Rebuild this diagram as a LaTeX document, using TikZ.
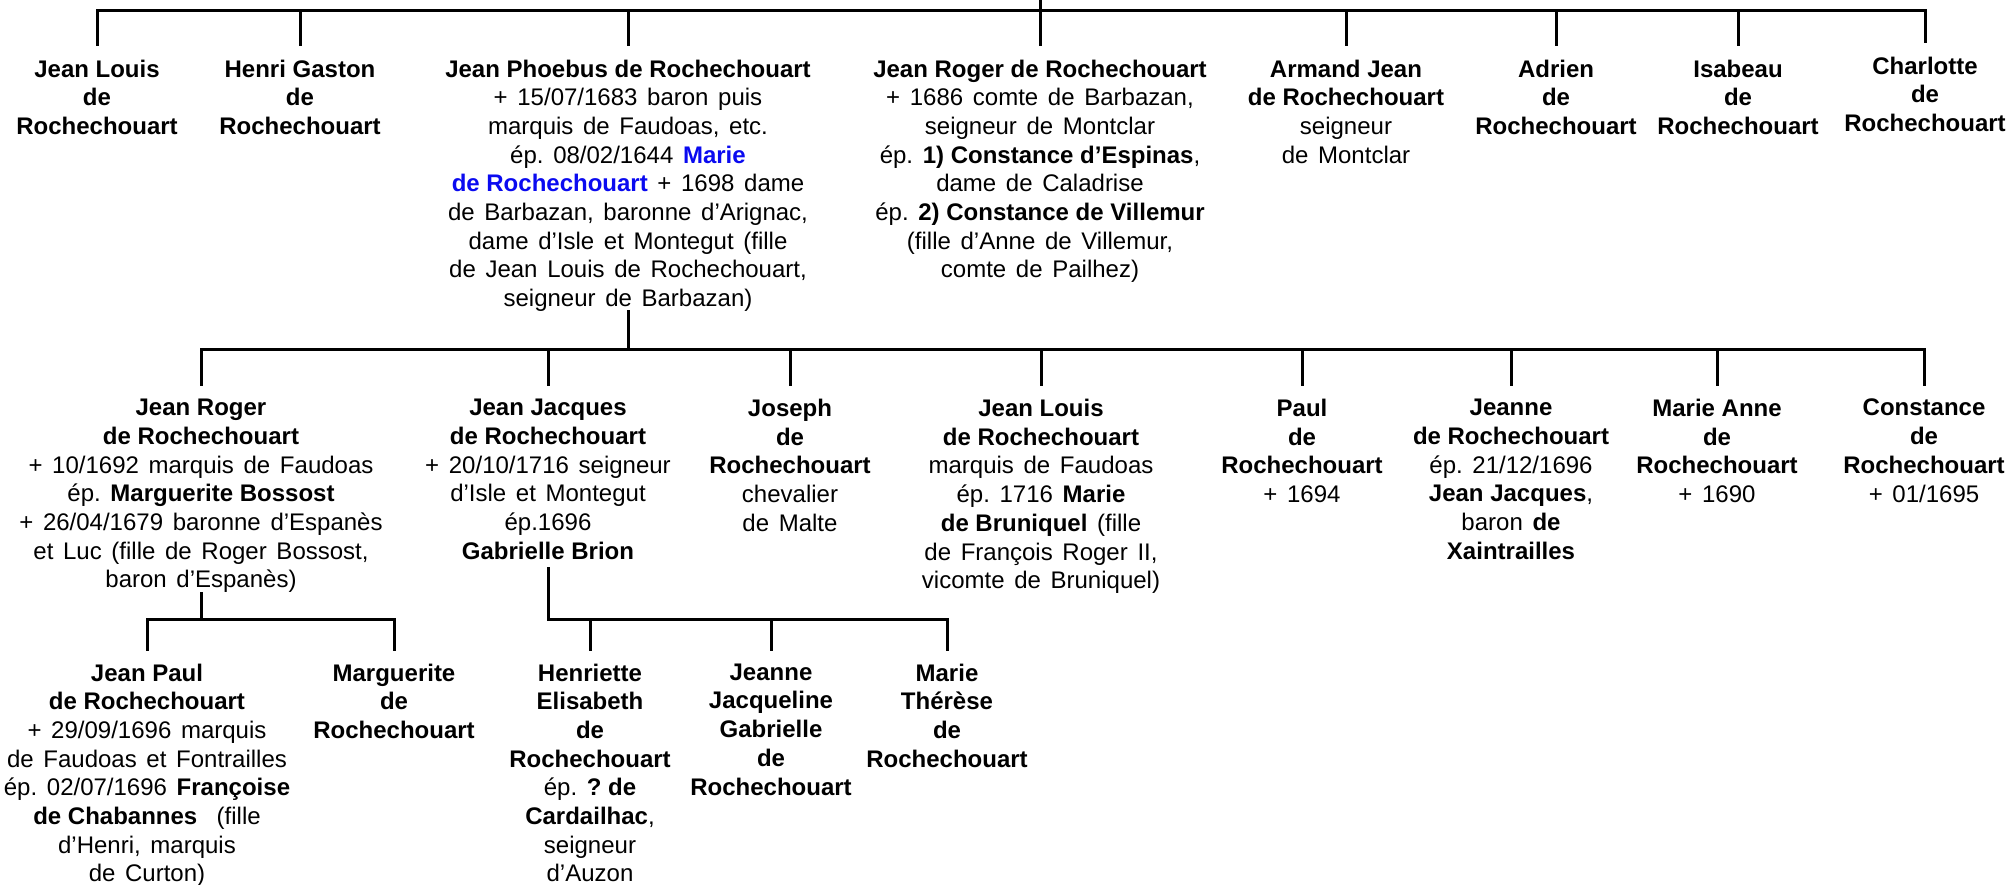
\documentclass[tikz,border=0pt]{standalone}
\usepackage{fontspec}
\setmainfont{Liberation Sans}[UprightFeatures={WordSpace=1.45}]
\frenchspacing
\definecolor{wifeblue}{RGB}{10,10,240}

\begin{document}
\begin{tikzpicture}[
    x=1pt, y=-1pt,
    font=\fontsize{24}{28.7}\selectfont,
    person/.style={align=center, anchor=north, inner sep=0pt},
    boldname/.style={font=\fontsize{24}{28.7}\selectfont\bfseries},
    tree/.style={line width=3pt, line cap=rect},
    drop/.style={line width=3pt, shorten >=13pt}
  ]
  \useasboundingbox (0,0) rectangle (2011,885);
  % first generation
  \node[person, boldname] (louisA) at (97,59.5) {Jean Louis\\de\\Rochechouart};
  \node[person, boldname] (henri) at (300,59.5) {Henri Gaston\\de\\Rochechouart};
  \node[person] (phoebus) at (628,59.5) {\textbf{Jean Phoebus de Rochechouart}\\+ 15/07/1683 baron puis\\marquis de Faudoas, etc.\\ép. 08/02/1644 \textbf{\color{wifeblue}Marie}\\\textbf{\color{wifeblue}de Rochechouart} + 1698 dame\\de Barbazan, baronne d’Arignac,\\dame d’Isle et Montegut (fille\\de Jean Louis de Rochechouart,\\seigneur de Barbazan)};
  \node[person] (rogerA) at (1040,59.5) {\textbf{Jean Roger de Rochechouart}\\+ 1686 comte de Barbazan,\\seigneur de Montclar\\ép. \textbf{1) Constance d’Espinas},\\dame de Caladrise\\ép. \textbf{2) Constance de Villemur}\\(fille d’Anne de Villemur,\\comte de Pailhez)};
  \node[person] (armand) at (1346,59.5) {\textbf{Armand Jean}\\\textbf{de Rochechouart}\\seigneur\\de Montclar};
  \node[person, boldname] (adrien) at (1556,59.5) {Adrien\\de\\Rochechouart};
  \node[person, boldname] (isabeau) at (1738,59.5) {Isabeau\\de\\Rochechouart};
  \node[person, boldname] (charlotte) at (1925,56.5) {Charlotte\\de\\Rochechouart};
  % second generation
  \node[person] (rogerB) at (201,399) {\textbf{Jean Roger}\\\textbf{de Rochechouart}\\+ 10/1692 marquis de Faudoas\\ép. \textbf{Marguerite Bossost}\\+ 26/04/1679 baronne d’Espanès\\et Luc (fille de Roger Bossost,\\baron d’Espanès)};
  \node[person] (jjacques) at (548,399) {\textbf{Jean Jacques}\\\textbf{de Rochechouart}\\+ 20/10/1716 seigneur\\d’Isle et Montegut\\ép.1696\\\textbf{Gabrielle Brion}\strut};
  \node[person] (joseph) at (790,399) {\textbf{Joseph}\\\textbf{de}\\\textbf{Rochechouart}\\chevalier\\de Malte};
  \node[person] (louisB) at (1041,399) {\textbf{Jean Louis}\\\textbf{de Rochechouart}\\marquis de Faudoas\\ép. 1716 \textbf{Marie}\\\textbf{de Bruniquel} (fille\\de François Roger II,\\vicomte de Bruniquel)};
  \node[person] (paul) at (1302,399) {\textbf{Paul}\\\textbf{de}\\\textbf{Rochechouart}\\+ 1694};
  \node[person] (jeanne) at (1511,399) {\textbf{Jeanne}\\\textbf{de Rochechouart}\\ép. 21/12/1696\\\textbf{Jean Jacques},\\baron \textbf{de}\\\textbf{Xaintrailles}};
  \node[person] (marieA) at (1717,399) {\textbf{Marie Anne}\\\textbf{de}\\\textbf{Rochechouart}\\+ 1690};
  \node[person] (constance) at (1924,399) {\textbf{Constance}\\\textbf{de}\\\textbf{Rochechouart}\\+ 01/1695};
  % third generation
  \node[person] (jeanpaul) at (147,663.5) {\textbf{Jean Paul}\\\textbf{de Rochechouart}\\+ 29/09/1696 marquis\\de Faudoas et Fontrailles\\ép. 02/07/1696 \textbf{Françoise}\\\textbf{de Chabannes}\ \ (fille\\d’Henri, marquis\\de Curton)};
  \node[person, boldname] (marguerite) at (394,663.5) {Marguerite\\de\\Rochechouart};
  \node[person] (henriette) at (590,663.5) {\textbf{Henriette}\\\textbf{Elisabeth}\\\textbf{de}\\\textbf{Rochechouart}\\ép. \textbf{? de}\\\textbf{Cardailhac},\\seigneur\\d’Auzon};
  \node[person, boldname] (jjg) at (771,663.5) {Jeanne\\Jacqueline\\Gabrielle\\de\\Rochechouart};
  \node[person, boldname] (marieT) at (947,663.5) {Marie\\Thérèse\\de\\Rochechouart};

  % lines of descent
  \coordinate (top) at (1040,0);
  \coordinate (bar1) at (0,10.7);
  \coordinate (bar2) at (0,350);
  \coordinate (bar3) at (0,619.5);
  \draw[tree] (top) -- (rogerA |- bar1);
  \draw[tree] (louisA |- bar1) -- (charlotte |- bar1);
  \foreach \n in {louisA,henri,phoebus,rogerA,armand,adrien,isabeau,charlotte} \draw[drop] (\n |- bar1) -- (\n.north);
  \draw[tree] (phoebus.south) -- (phoebus |- bar2);
  \draw[tree] (rogerB |- bar2) -- (constance |- bar2);
  \foreach \n in {rogerB,jjacques,joseph,louisB,paul,jeanne,marieA,constance} \draw[drop] (\n |- bar2) -- (\n.north);
  \draw[tree] (rogerB.south) -- (rogerB |- bar3);
  \draw[tree] (jeanpaul |- bar3) -- (marguerite |- bar3);
  \foreach \n in {jeanpaul,marguerite} \draw[drop] (\n |- bar3) -- (\n.north);
  \draw[tree] (jjacques.south) -- (jjacques |- bar3);
  \draw[tree] (jjacques |- bar3) -- (marieT |- bar3);
  \foreach \n in {henriette,jjg,marieT} \draw[drop] (\n |- bar3) -- (\n.north);
\end{tikzpicture}
\end{document}
